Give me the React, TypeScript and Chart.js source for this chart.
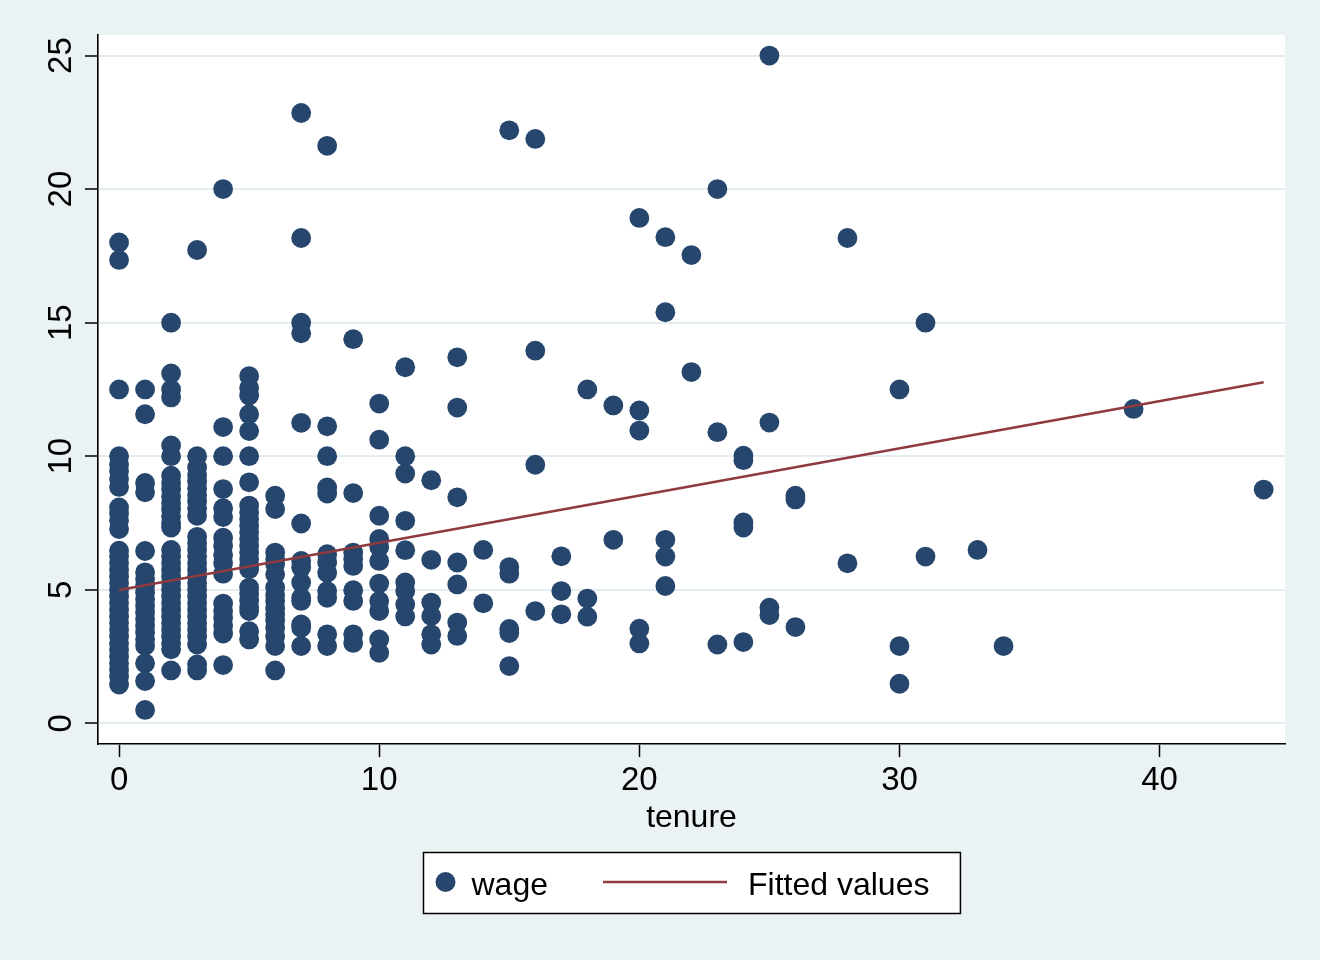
import React, { useEffect, useRef } from "react";
import { Chart, registerables } from "chart.js";

Chart.register(...registerables);

const FONT = '"Liberation Sans", Arial, Helvetica, sans-serif';

// Tenure levels (x) and the wage observations (y) found at each level
const tenureLevels = [0, 1, 2, 3, 4, 5, 6, 7, 8, 9, 10, 11, 12, 13, 14, 15, 16, 17, 18, 19, 20, 21, 22, 23, 24, 25, 26, 28, 30, 31, 33, 34, 39, 44];

const wageByTenure: number[][] = [
  [18.0, 17.35, 12.5, 10.0, 9.7, 9.45, 9.15, 8.85, 8.08, 7.85, 7.6, 7.27, 6.46, 6.25, 6.0, 5.75, 5.5, 5.25, 5.0, 4.75, 4.5, 4.25, 4.0, 3.75, 3.5, 3.25, 3.0, 2.75, 2.5, 2.25, 2.0, 1.75, 1.45],
  [12.5, 11.57, 9.0, 8.65, 6.45, 5.65, 5.4, 5.15, 4.9, 4.65, 4.4, 4.15, 3.9, 3.65, 3.4, 3.15, 2.9, 2.25, 1.58, 0.5],
  [15.0, 13.1, 12.5, 12.2, 10.4, 10.0, 9.27, 9.0, 8.75, 8.5, 8.25, 8.0, 7.75, 7.5, 7.33, 6.49, 6.25, 6.0, 5.75, 5.5, 5.25, 5.0, 4.75, 4.5, 4.25, 4.0, 3.75, 3.5, 3.25, 3.0, 2.77, 1.98],
  [17.72, 10.0, 9.58, 9.3, 9.05, 8.8, 8.55, 8.3, 8.05, 7.77, 6.98, 6.75, 6.5, 6.25, 6.0, 5.75, 5.5, 5.25, 5.0, 4.75, 4.5, 4.25, 4.0, 3.75, 3.5, 3.25, 2.95, 2.2, 1.98],
  [20.0, 11.09, 10.0, 8.77, 8.05, 7.72, 6.95, 6.65, 6.3, 6.0, 5.6, 4.48, 4.2, 3.95, 3.65, 3.36, 2.18],
  [13.0, 12.55, 12.27, 11.57, 10.94, 10.0, 9.02, 8.15, 7.9, 7.65, 7.4, 7.15, 6.9, 6.65, 6.4, 6.15, 5.9, 5.77, 5.08, 4.85, 4.6, 4.35, 4.2, 3.45, 3.14],
  [8.52, 8.02, 6.39, 6.15, 5.96, 5.58, 5.08, 4.8, 4.58, 4.3, 4.08, 3.85, 3.58, 3.25, 2.89, 1.98],
  [22.85, 18.17, 15.0, 14.6, 11.25, 7.48, 6.08, 5.83, 5.27, 4.7, 4.58, 3.7, 3.58, 2.89],
  [21.62, 11.12, 10.0, 8.83, 8.6, 6.33, 6.02, 5.64, 4.95, 4.7, 3.33, 2.89],
  [14.38, 8.62, 6.39, 6.15, 5.89, 4.98, 4.58, 3.33, 3.01],
  [11.97, 10.62, 7.77, 6.9, 6.6, 6.08, 5.23, 4.58, 4.2, 3.14, 2.64],
  [13.33, 10.0, 9.35, 7.58, 6.48, 5.27, 4.95, 4.45, 4.0],
  [9.1, 6.12, 4.52, 4.02, 3.33, 2.95],
  [13.7, 11.82, 8.46, 6.02, 5.2, 3.77, 3.27],
  [6.49, 4.49],
  [22.2, 5.85, 5.6, 3.53, 3.38, 2.14],
  [21.88, 13.95, 9.68, 4.2],
  [6.25, 4.95, 4.08],
  [12.5, 4.67, 3.99],
  [11.9, 6.87],
  [18.92, 11.71, 10.96, 3.54, 2.99],
  [18.2, 15.39, 6.87, 6.24, 5.14],
  [17.53, 13.15],
  [20.0, 10.9, 2.95],
  [10.02, 9.85, 7.52, 7.33, 3.04],
  [25.0, 11.26, 4.33, 4.05],
  [8.52, 8.38, 3.6],
  [18.17, 5.99],
  [12.5, 2.89, 1.48],
  [15.0, 6.24],
  [6.49],
  [2.89],
  [11.77],
  [8.75],
];

// Linear fit (Fitted values) end points
const fittedTenure = [0, 44];
const fittedWage = [4.99, 12.77];

// Axis ticks and ranges
const xTickValues = [0, 10, 20, 30, 40];
const yTickValues = [0, 5, 10, 15, 20, 25];
const xRange = [-0.81, 44.82];
const yRange = [-0.776, 25.77];

const seriesLabels = ["wage", "Fitted values"];

const MARKER = "#26466D";
const FIT = "#8F3A3F";
const BG = "#EAF2F3";
const GRID = "#E4EDF0";

const plotBgPlugin = {
  id: "plotBg",
  beforeDraw(chart: any) {
    const { ctx, chartArea } = chart;
    ctx.save();
    ctx.fillStyle = "#ffffff";
    ctx.fillRect(chartArea.left, chartArea.top, chartArea.right - chartArea.left, chartArea.bottom - chartArea.top);
    ctx.restore();
  },
};

const boxedLegendPlugin = {
  id: "boxedLegend",
  afterDraw(chart: any) {
    const { ctx, chartArea } = chart;
    const ds = chart.data.datasets;
    const scatterDs = ds.find((d: any) => d.type !== "line");
    const lineDs = ds.find((d: any) => d.type === "line");
    ctx.save();
    ctx.font = `32px ${FONT}`;
    const t1 = scatterDs.label as string;
    const t2 = lineDs.label as string;
    const w1 = ctx.measureText(t1).width;
    const w2 = ctx.measureText(t2).width;
    const padL = 12, dotD = 20, gap1 = 16, gap2 = 55, lineLen = 124, gap3 = 21, padR = 31;
    const boxW = padL + dotD + gap1 + w1 + gap2 + lineLen + gap3 + w2 + padR;
    const cx = (chartArea.left + chartArea.right) / 2;
    const left = Math.round(cx - boxW / 2) + 0.5;
    const top = chartArea.bottom + 108.5;
    const h = 61;
    ctx.fillStyle = "#ffffff";
    ctx.fillRect(left, top, boxW, h);
    ctx.strokeStyle = "#000000";
    ctx.lineWidth = 1.5;
    ctx.strokeRect(left, top, boxW, h);
    const midY = top + 29.5;
    let x = left + padL;
    ctx.fillStyle = scatterDs.backgroundColor;
    ctx.beginPath();
    ctx.arc(x + dotD / 2, midY, dotD / 2, 0, Math.PI * 2);
    ctx.fill();
    x += dotD + gap1;
    ctx.fillStyle = "#000000";
    ctx.textBaseline = "alphabetic";
    ctx.textAlign = "left";
    ctx.fillText(t1, x, top + 42);
    x += w1 + gap2;
    ctx.strokeStyle = lineDs.borderColor;
    ctx.lineWidth = lineDs.borderWidth;
    ctx.beginPath();
    ctx.moveTo(x, midY);
    ctx.lineTo(x + lineLen, midY);
    ctx.stroke();
    x += lineLen + gap3;
    ctx.fillStyle = "#000000";
    ctx.fillText(t2, x, top + 42);
    ctx.restore();
  },
};

export default function App() {
  const canvasRef = useRef<HTMLCanvasElement | null>(null);

  useEffect(() => {
    document.body.style.margin = "0";
    const canvas = canvasRef.current;
    if (!canvas) return;

    const wagePoints: { x: number; y: number }[] = [];
    tenureLevels.forEach((t, i) => {
      wageByTenure[i].forEach((w) => wagePoints.push({ x: t, y: w }));
    });
    const fitPoints = fittedTenure.map((t, i) => ({ x: t, y: fittedWage[i] }));

    const chart = new Chart(canvas, {
      type: "scatter",
      data: {
        datasets: [
          {
            type: "scatter",
            label: seriesLabels[0],
            data: wagePoints,
            backgroundColor: MARKER,
            borderColor: MARKER,
            borderWidth: 0,
            pointRadius: 9.9,
            pointHoverRadius: 9.9,
            order: 1,
          } as any,
          {
            type: "line",
            label: seriesLabels[1],
            data: fitPoints,
            borderColor: FIT,
            backgroundColor: FIT,
            borderWidth: 2.6,
            pointRadius: 0,
            pointHoverRadius: 0,
            showLine: true,
            fill: false,
            tension: 0,
            order: 0,
          } as any,
        ],
      },
      options: {
        responsive: false,
        animation: false,
        devicePixelRatio: 1,
        layout: { padding: { left: 0, top: 35, right: 35, bottom: 123 } },
        plugins: {
          legend: { display: false },
          tooltip: { enabled: false },
          title: { display: false },
        },
        scales: {
          x: {
            type: "linear",
            min: xRange[0],
            max: xRange[1],
            afterBuildTicks: (scale: any) => {
              scale.ticks = xTickValues.map((v) => ({ value: v }));
            },
            afterFit: (scale: any) => {
              scale.height = 93;
            },
            grid: {
              display: true,
              drawOnChartArea: false,
              drawTicks: true,
              tickLength: 13,
              tickColor: "#000000",
              tickWidth: 1.5,
            },
            border: { display: true, color: "#000000", width: 1.6 },
            ticks: {
              color: "#000000",
              font: { family: FONT, size: 33 },
              padding: 4,
              maxRotation: 0,
              minRotation: 0,
              autoSkip: false,
            },
            title: {
              display: true,
              text: "tenure",
              color: "#000000",
              font: { family: FONT, size: 32 },
              padding: 0,
            },
          },
          y: {
            type: "linear",
            min: yRange[0],
            max: yRange[1],
            afterBuildTicks: (scale: any) => {
              scale.ticks = yTickValues.map((v) => ({ value: v }));
            },
            afterFit: (scale: any) => {
              scale.width = 98;
            },
            grid: {
              display: true,
              drawOnChartArea: true,
              color: GRID,
              lineWidth: 2,
              drawTicks: true,
              tickLength: 13,
              tickColor: "#000000",
              tickWidth: 1.5,
            },
            border: { display: true, color: "#000000", width: 1.6 },
            ticks: {
              color: "#000000",
              font: { family: FONT, size: 33 },
              padding: 5,
              minRotation: 90,
              maxRotation: 90,
              crossAlign: "center",
              autoSkip: false,
            },
          },
        },
      },
      plugins: [plotBgPlugin, boxedLegendPlugin],
    });

    return () => {
      chart.destroy();
    };
  }, []);

  return (
    <div style={{ width: 1320, height: 960, background: BG, position: "relative" }}>
      <canvas ref={canvasRef} width={1320} height={960} style={{ width: 1320, height: 960, display: "block" }} />
    </div>
  );
}
